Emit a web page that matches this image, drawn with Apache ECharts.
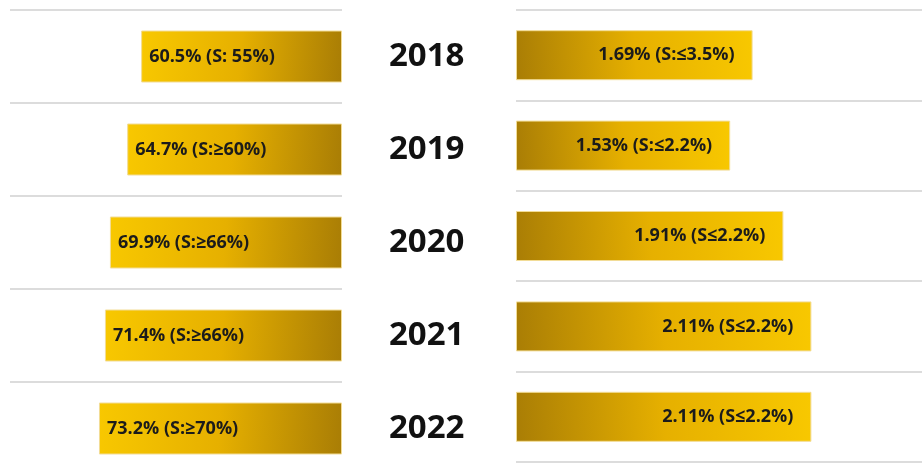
<!DOCTYPE html>
<html>
<head>
<meta charset="utf-8">
<script src="https://cdn.jsdelivr.net/npm/echarts@6/dist/echarts.min.js"></script>
<style>
html,body{margin:0;padding:0;background:#fff;}
#chart{width:922px;height:468px;}
</style>
</head>
<body>
<div id="chart"></div>
<script>
const years = ['2018', '2019', '2020', '2021', '2022'];
const leftValues = [60.5, 64.7, 69.9, 71.4, 73.2];
const leftStandards = ['S: 55%', 'S:≥60%', 'S:≥66%', 'S:≥66%', 'S:≥70%'];
const rightValues = [1.69, 1.53, 1.91, 2.11, 2.11];
const rightStandards = ['S:≤3.5%', 'S:≤2.2%', 'S≤2.2%', 'S≤2.2%', 'S≤2.2%'];

const chart = echarts.init(document.getElementById('chart'));
const labelFont = {
  fontFamily: '"Open Sans", sans-serif',
  fontWeight: 'bold',
  fontSize: 18,
  color: '#1b1b1b'
};
const splitStyle = { show: true, lineStyle: { color: '#dcdcdc', width: 2 } };

chart.setOption({
  animation: false,
  backgroundColor: '#ffffff',
  grid: [
    { left: 10, right: 580, top: 10, bottom: -7, outerBoundsMode: 'none', containLabel: false },
    { left: 516, right: 0, top: 10, bottom: 6, outerBoundsMode: 'none', containLabel: false }
  ],
  xAxis: [
    { gridIndex: 0, type: 'value', min: 0, max: 100, inverse: true, show: false },
    { gridIndex: 1, type: 'value', min: 0, max: 2.9, show: false }
  ],
  yAxis: [
    {
      gridIndex: 0, type: 'category', data: years, inverse: true, position: 'right',
      axisLine: { show: false }, axisTick: { show: false },
      splitLine: splitStyle,
      axisLabel: {
        margin: 47, align: 'left',
        fontFamily: '"Open Sans", sans-serif', fontWeight: 'bold', fontSize: 33, color: '#111'
      }
    },
    {
      gridIndex: 1, type: 'category', data: years, inverse: true,
      axisLine: { show: false }, axisTick: { show: false }, axisLabel: { show: false },
      splitLine: splitStyle
    }
  ],
  series: [
    {
      type: 'bar', xAxisIndex: 0, yAxisIndex: 0, data: leftValues, barWidth: 52,
      itemStyle: {
        color: new echarts.graphic.LinearGradient(0, 0, 1, 0.3, [
          { offset: 0, color: '#F8C800' },
          { offset: 0.5, color: '#E6B000' },
          { offset: 1, color: '#AA7E05' }
        ]),
        borderColor: '#F2DC96', borderWidth: 1
      },
      label: Object.assign({
        show: true, position: 'insideLeft', distance: 8,
        formatter: p => leftValues[p.dataIndex] + '% (' + leftStandards[p.dataIndex] + ')'
      }, labelFont)
    },
    {
      type: 'bar', xAxisIndex: 1, yAxisIndex: 1, data: rightValues, barWidth: 50,
      itemStyle: {
        color: new echarts.graphic.LinearGradient(0, 0.3, 1, 0, [
          { offset: 0, color: '#AA7E05' },
          { offset: 0.5, color: '#E6B000' },
          { offset: 1, color: '#F8C800' }
        ]),
        borderColor: '#F2DC96', borderWidth: 1
      },
      label: Object.assign({
        show: true, position: 'insideRight', distance: 18,
        formatter: p => rightValues[p.dataIndex] + '% (' + rightStandards[p.dataIndex] + ')'
      }, labelFont)
    }
  ]
});
</script>
</body>
</html>
